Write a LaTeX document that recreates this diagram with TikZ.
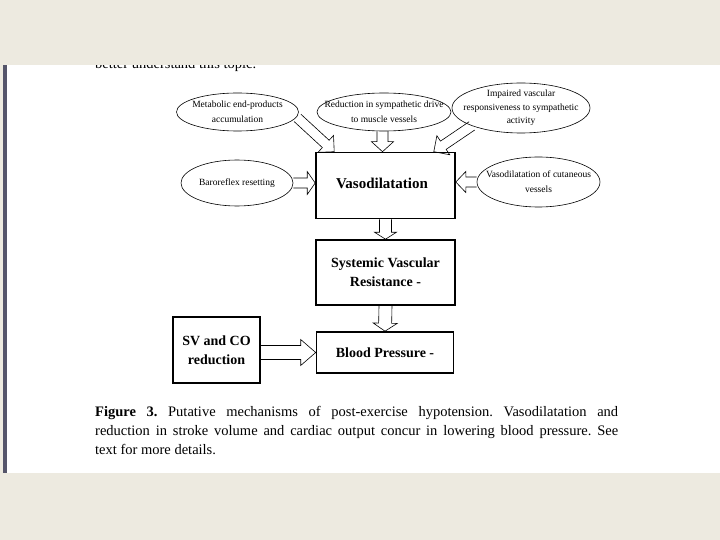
\documentclass[tikz,border=0pt]{standalone}
\usepackage{fontspec}
\setmainfont{Liberation Serif}
\usetikzlibrary{shapes.geometric,calc}
\definecolor{beige}{HTML}{EDEAE0}
\definecolor{edgeline}{HTML}{55556A}
\tikzset{
  oval/.style={ellipse, draw, line width=0.6pt, inner sep=0pt},
  ovaltext/.style={inner sep=0pt, align=center, font=\fontsize{9.5}{15}\selectfont},
  box/.style={rectangle, draw, line width=1.6pt, inner sep=0pt, align=center, font=\fontsize{14}{19}\selectfont\bfseries},
  arr/.style={draw, line width=0.6pt, line join=miter},
}
% \barrow{from}{to}{shaft half width}{head half width}{head length}
\newcommand\barrow[5]{%
  \coordinate (hb) at ($(#2)!#5pt!(#1)$);
  \draw[arr] ($(#1)!#3pt!90:(#2)$) -- ($(hb)!#3pt!-90:(#1)$) -- ($(hb)!#4pt!-90:(#1)$) -- (#2)
     -- ($(hb)!#4pt!90:(#1)$) -- ($(hb)!#3pt!90:(#1)$) -- ($(#1)!#3pt!-90:(#2)$);}
\begin{document}
\begin{tikzpicture}[x=1pt,y=-1pt]
\useasboundingbox (0,0) rectangle (720,540);
\fill[beige] (0,0) rectangle (720,540);
\fill[white] (5,65) rectangle (720,473);
\fill[edgeline] (3,65) rectangle (7,473);
\node[anchor=base west, inner sep=0pt, font=\fontsize{14.5}{20}\selectfont] (toptext) at (95,69) {better understand this topic.};
\fill[beige] (0,0) rectangle (720,65);

% ellipses
\node[oval, minimum width=122pt, minimum height=38pt] (e1) at (237.5,112) {};
\node[ovaltext] (e1t) at (e1.center) {Metabolic end-products\\accumulation};
\node[oval, minimum width=134pt, minimum height=38pt] (e2) at (384,112) {};
\node[ovaltext] (e2t) at (e2.center) {Reduction in sympathetic drive\\to muscle vessels};
\node[oval, minimum width=138pt, minimum height=50pt] (e3) at (521,108) {};
\node[ovaltext, font=\fontsize{9.5}{13.5}\selectfont] (e3t) at (e3.center) {Impaired vascular\\responsiveness to sympathetic\\activity};
\node[oval, minimum width=112pt, minimum height=46pt] (baro) at (237,183) {};
\node[ovaltext] (barot) at (baro.center) {Baroreflex resetting};
\node[oval, minimum width=123pt, minimum height=50pt] (cut) at (538.5,182) {};
\node[ovaltext] (cutt) at (cut.center) {Vasodilatation of cutaneous\\vessels};

% boxes
\node[box, minimum width=139pt, minimum height=66pt] (vaso) at (385.5,185.5) {};
\node[font=\fontsize{15}{19}\selectfont\bfseries, inner sep=0pt] (vasot) at (382,183.5) {Vasodilatation};
\node[box, minimum width=139pt, minimum height=65pt] (svr) at (385.5,272.5) {Systemic Vascular\\Resistance -};
\node[box, minimum width=137pt, minimum height=41pt] (bp) at (385,352.5) {Blood Pressure -};
\node[box, minimum width=87pt, minimum height=66pt] (sv) at (216.5,350) {SV and CO\\reduction};

% arrow end points
\coordinate (t1) at ($(vaso.north west)+(19,0)$);
\coordinate (s1) at ($(e1.-8)+(4,-2)$);
\coordinate (t2) at ($(vaso.north)+(-3,0)$);
\coordinate (s2) at (e2.south -| t2);
\coordinate (t3) at ($(vaso.north east)+(-22,0)$);
\coordinate (s3) at (e3.200);
\coordinate (tb) at (vaso.west |- baro.east);
\coordinate (tc) at (vaso.east |- cut.west);
\coordinate (s4) at (vaso.south);
\coordinate (t4) at (svr.north);
\coordinate (s5) at (svr.south);
\coordinate (t5) at (bp.north);
\coordinate (s6) at (sv.east |- bp.west);

\barrow{s1}{t1}{5}{11.5}{11.5}
\barrow{s2}{t2}{5.5}{11}{10}
\barrow{s3}{t3}{5}{11.5}{11.5}
\barrow{baro.east}{tb}{5}{11.5}{8}
\barrow{cut.west}{tc}{5}{10.5}{10}
\barrow{s4}{t4}{6}{11}{7}
\barrow{s5}{t5}{6.5}{12}{8}
\barrow{s6}{bp.west}{7}{13}{15}

% caption
\node[anchor=north west, inner sep=0pt, text width=523pt, align=justify, font=\fontsize{14.5}{19}\selectfont] (cap) at (95,406)
 {\frenchspacing\textbf{Figure 3.} Putative mechanisms of post-exercise hypotension. Vasodilatation and\linebreak reduction in stroke volume and cardiac output concur in lowering blood pressure. See\linebreak text for more details.};
\end{tikzpicture}
\end{document}
